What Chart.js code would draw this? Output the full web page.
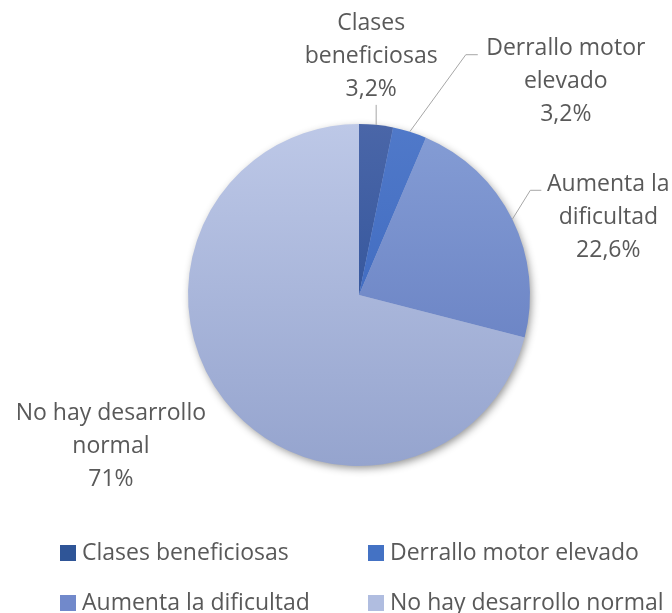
<!DOCTYPE html>
<html>
<head>
<meta charset="utf-8">
<script src="https://cdn.jsdelivr.net/npm/chart.js@4.4.0/dist/chart.umd.min.js"></script>
<style>
  html, body { margin: 0; padding: 0; background: #fff; }
  #wrap { width: 672px; height: 613px; }
</style>
</head>
<body>
<div id="wrap"><canvas id="chart1"></canvas></div>
<script>
const categories = ["Clases beneficiosas", "Derrallo motor elevado", "Aumenta la dificultad", "No hay desarrollo normal"];
const values = [3.2, 3.2, 22.6, 71];
const valueLabels = ["3,2%", "3,2%", "22,6%", "71%"];
// the category text as it wraps next to the pie
const labelLines = [["Clases", "beneficiosas"], ["Derrallo motor", "elevado"], ["Aumenta la", "dificultad"], ["No hay desarrollo", "normal"]];

const topColors = ["#4a66a8", "#5079c9", "#859dd5", "#bdc8e7"];
const bottomColors = ["#244a93", "#3562bb", "#5f78bd", "#95a4ce"];
const legendColors = ["#2f5597", "#4472c4", "#7189cb", "#b0bde0"];

const pieRadius = 171;
const textColor = "#595959";
const fontFamily = "'Open Sans', 'DejaVu Sans', sans-serif";

function sliceColor(context) {
  const chart = context.chart;
  const area = chart.chartArea;
  const i = context.dataIndex;
  if (!area) return legendColors[i];
  const cy = (area.top + area.bottom) / 2;
  const g = chart.ctx.createLinearGradient(0, cy - pieRadius, 0, cy + pieRadius);
  g.addColorStop(0, topColors[i]);
  g.addColorStop(1, bottomColors[i]);
  return g;
}

// soft shadow behind the whole pie
const pieShadow = {
  id: "pieShadow",
  beforeDatasetsDraw(chart) {
    const arc = chart.getDatasetMeta(0).data[0];
    if (!arc) return;
    const ctx = chart.ctx;
    ctx.save();
    ctx.shadowColor = "rgba(0,0,0,0.45)";
    ctx.shadowBlur = 8;
    ctx.shadowOffsetX = 2;
    ctx.shadowOffsetY = 3;
    ctx.fillStyle = "#9aa9d0";
    ctx.beginPath();
    ctx.arc(arc.x, arc.y, arc.outerRadius - 1, 0, Math.PI * 2);
    ctx.fill();
    ctx.restore();
  }
};

// label spots, relative to the point on the rim at the middle of each slice
const labelSpots = [
  {dx: -5, dy: -68, leader: [[0, -20]]},
  {dx: 156, dy: -50, leader: [[56, -77], [68, -77]]},
  {dx: 96, dy: -2, leader: [[18, -29], [29, -29]]},
  {dx: -113, dy: 47, leader: []}
];

const outsideLabels = {
  id: "outsideLabels",
  afterDatasetsDraw(chart) {
    const ctx = chart.ctx;
    const meta = chart.getDatasetMeta(0);
    const lineH = 33;
    ctx.save();
    meta.data.forEach(function (arc, i) {
      const p = arc.getProps(["x", "y", "startAngle", "endAngle", "outerRadius"], true);
      const mid = (p.startAngle + p.endAngle) / 2;
      const ex = p.x + Math.cos(mid) * p.outerRadius;
      const ey = p.y + Math.sin(mid) * p.outerRadius;
      const spot = labelSpots[i];
      if (spot.leader.length) {
        ctx.strokeStyle = "#a6a6a6";
        ctx.lineWidth = 1;
        ctx.beginPath();
        ctx.moveTo(ex, ey);
        spot.leader.forEach(function (pt) { ctx.lineTo(ex + pt[0], ey + pt[1]); });
        ctx.stroke();
      }
      const lines = labelLines[i].concat([valueLabels[i]]);
      const cx = ex + spot.dx;
      const cy = ey + spot.dy;
      ctx.fillStyle = textColor;
      ctx.font = "23px " + fontFamily;
      ctx.textAlign = "center";
      ctx.textBaseline = "middle";
      lines.forEach(function (t, k) {
        ctx.fillText(t, cx, cy + (k - (lines.length - 1) / 2) * lineH);
      });
    });
    ctx.restore();
  }
};

// two-column legend under the pie, like the original
const gridLegend = {
  id: "gridLegend",
  afterDraw(chart) {
    const ctx = chart.ctx;
    const colX = [60, 368];
    const rowY = [553, 603];
    const box = 16;
    ctx.save();
    ctx.font = "23px " + fontFamily;
    ctx.textAlign = "left";
    ctx.textBaseline = "middle";
    chart.data.labels.forEach(function (label, i) {
      const x = colX[i % 2];
      const y = rowY[Math.floor(i / 2)];
      ctx.fillStyle = legendColors[i];
      ctx.fillRect(x, y - box / 2, box, box);
      ctx.fillStyle = textColor;
      ctx.fillText(label, x + box + 6, y);
    });
    ctx.restore();
  }
};

const ctx = document.getElementById("chart1").getContext("2d");
const myChart = new Chart(ctx, {
  type: "pie",
  data: {
    labels: categories,
    datasets: [
      {
        data: values,
        backgroundColor: sliceColor,
        borderWidth: 0,
        radius: pieRadius,
      },
    ],
  },
  options: {
    responsive: true,
    maintainAspectRatio: false,
    animation: false,
    layout: {
      padding: {top: 74, left: 60, right: 14, bottom: 97},
    },
    plugins: {
      tooltip: {enabled: false},
      legend: {display: false},
    },
  },
  plugins: [pieShadow, outsideLabels, gridLegend],
});
</script>
</body>
</html>
